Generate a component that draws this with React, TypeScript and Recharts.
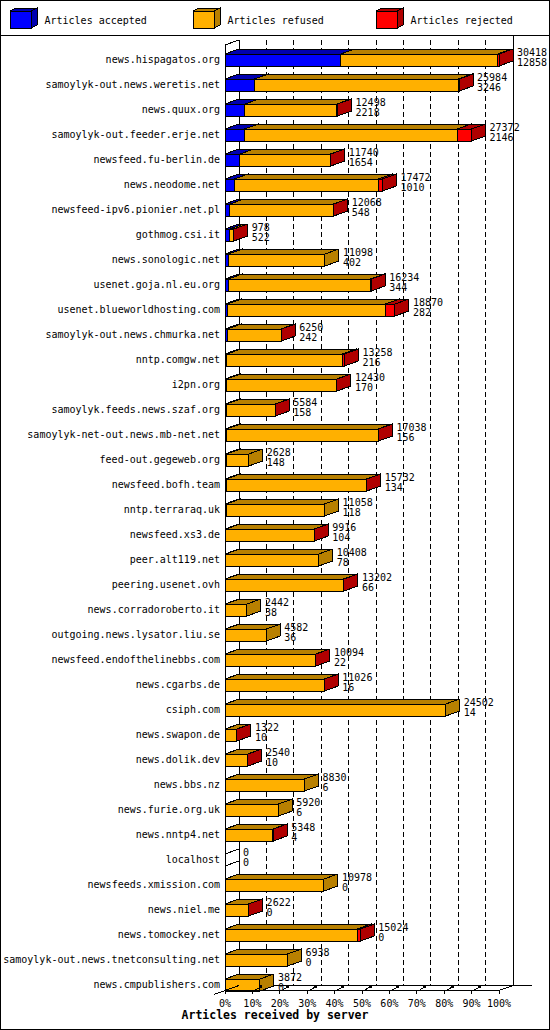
import React from 'react';
import { BarChart, Bar, XAxis, YAxis, CartesianGrid, LabelList } from 'recharts';

// Servers, top to bottom
const servers = [
  'news.hispagatos.org',
  'samoylyk-out.news.weretis.net',
  'news.quux.org',
  'samoylyk-out.feeder.erje.net',
  'newsfeed.fu-berlin.de',
  'news.neodome.net',
  'newsfeed-ipv6.pionier.net.pl',
  'gothmog.csi.it',
  'news.sonologic.net',
  'usenet.goja.nl.eu.org',
  'usenet.blueworldhosting.com',
  'samoylyk-out.news.chmurka.net',
  'nntp.comgw.net',
  'i2pn.org',
  'samoylyk.feeds.news.szaf.org',
  'samoylyk-net-out.news.mb-net.net',
  'feed-out.gegeweb.org',
  'newsfeed.bofh.team',
  'nntp.terraraq.uk',
  'newsfeed.xs3.de',
  'peer.alt119.net',
  'peering.usenet.ovh',
  'news.corradoroberto.it',
  'outgoing.news.lysator.liu.se',
  'newsfeed.endofthelinebbs.com',
  'news.cgarbs.de',
  'csiph.com',
  'news.swapon.de',
  'news.dolik.dev',
  'news.bbs.nz',
  'news.furie.org.uk',
  'news.nntp4.net',
  'localhost',
  'newsfeeds.xmission.com',
  'news.niel.me',
  'news.tomockey.net',
  'samoylyk-out.news.tnetconsulting.net',
  'news.cmpublishers.com',
];

// Articles offered (first number next to each bar)
const offered = [
  30418, 25984, 12498, 27372, 11740, 17472, 12068, 978, 11098, 16234,
  18870, 6250, 13258, 12430, 5584, 17038, 2628, 15732, 11058, 9916,
  10408, 13202, 2442, 4582, 10094, 11026, 24502, 1322, 2540, 8830,
  5920, 5348, 0, 10978, 2622, 15024, 6938, 3872,
];

// Articles accepted (second number)
const accepted = [
  12858, 3246, 2218, 2146, 1654, 1010, 548, 522, 402, 344,
  282, 242, 216, 170, 158, 156, 148, 134, 118, 104,
  78, 66, 38, 36, 22, 16, 14, 10, 10, 6,
  6, 4, 0, 0, 0, 0, 0, 0,
];

// Articles rejected (estimated from the red segments)
const rejected = [
  150, 100, 80, 1600, 40, 450, 40, 20, 0, 100,
  1050, 30, 250, 30, 20, 50, 0, 50, 0, 30,
  0, 40, 0, 0, 30, 30, 0, 10, 10, 0,
  0, 20, 0, 0, 10, 350, 0, 0,
];

const tickPercents = [0, 10, 20, 30, 40, 50, 60, 70, 80, 90, 100];

const legendItems = [
  { label: 'Articles accepted', front: '#0000ff', dark: '#0000b0' },
  { label: 'Articles refused', front: '#ffb000', dark: '#b88000' },
  { label: 'Articles rejected', front: '#ff0000', dark: '#b00000' },
];

const data = servers.map((name, i) => ({
  name,
  total: offered[i],
  accepted: accepted[i],
  refused: offered[i] - accepted[i] - rejected[i],
  rejected: rejected[i],
}));

const MAX = Math.max(...offered);
const FONT = "'DejaVu Sans Mono', monospace";

// 3d depth
const DX = 14;
const DY = 5;
const PLOT_LEFT = 225;
const PLOT_RIGHT = 499;
const FLOOR_Y = 990.5;
const BACK_FLOOR_Y = 985.5;

const box3d = (front: string, dark: string) => (props: any) => {
  const { x, y, width, height } = props;
  if (!(width > 0)) return <g />;
  const r = x + width;
  return (
    <g stroke="#000" strokeWidth={1}>
      <rect x={x} y={y} width={width} height={height} fill={front} />
      <polygon points={`${x},${y} ${r},${y} ${r + DX},${y - DY} ${x + DX},${y - DY}`} fill={dark} />
      <polygon
        points={`${r},${y} ${r + DX},${y - DY} ${r + DX},${y + height - DY} ${r},${y + height}`}
        fill={dark}
      />
    </g>
  );
};

const renderValueLabel = (props: any) => {
  const vb = props.viewBox || props;
  const x = vb.x ?? props.x;
  const y = vb.y ?? props.y;
  const width = vb.width ?? props.width ?? 0;
  const height = vb.height ?? props.height ?? 12;
  const i = props.index;
  const end = x + width;
  return (
    <g>
      {offered[i] === 0 && (
        <g stroke="#000">
          <line x1={end} y1={y} x2={end + DX} y2={y - DY} />
          <line x1={end} y1={y + height} x2={end + DX} y2={y + height - DY} />
        </g>
      )}
      <text x={end + 18} y={y + 2} fontFamily={FONT} fontSize={10} fill="#000">
        {offered[i]}
      </text>
      <text x={end + 18} y={y + 12} fontFamily={FONT} fontSize={10} fill="#000">
        {accepted[i]}
      </text>
    </g>
  );
};

const renderServerTick = (props: any) => {
  const { y, payload } = props;
  return (
    <text x={220} y={y + 3} textAnchor="end" fontFamily={FONT} fontSize={10} fill="#000">
      {payload.value}
    </text>
  );
};

const renderPercentTick = (props: any) => {
  const { x, payload } = props;
  const pct = Math.round((payload.value / MAX) * 100);
  return (
    <g>
      {pct === 0 && (
        <g stroke="#000" fill="none">
          <line x1={PLOT_LEFT} y1={45} x2={PLOT_LEFT} y2={FLOOR_Y} />
          <line x1={PLOT_LEFT} y1={45} x2={PLOT_LEFT + DX} y2={40} />
          <line x1={PLOT_LEFT} y1={FLOOR_Y} x2={PLOT_RIGHT} y2={FLOOR_Y} />
          <line x1={PLOT_RIGHT} y1={FLOOR_Y} x2={PLOT_RIGHT + DX} y2={BACK_FLOOR_Y} />
          <line x1={214} y1={994.5} x2={PLOT_LEFT + DX} y2={BACK_FLOOR_Y} />
        </g>
      )}
      <line x1={x} y1={FLOOR_Y} x2={x} y2={994} stroke="#000" />
      {pct > 0 && pct < 100 && (
        <g stroke="#000">
          <line x1={x + 2} y1={FLOOR_Y} x2={x + 8} y2={987} />
          <rect x={x + 7} y={985} width={2} height={2} fill="#000" />
        </g>
      )}
      <text x={x} y={1006.5} textAnchor="middle" fontFamily={FONT} fontSize={10} fill="#000">
        {pct}%
      </text>
    </g>
  );
};

const renderGridLine = (props: any) => {
  const { x1, index } = props;
  const bx = x1 + DX;
  if (Math.abs(x1 - PLOT_LEFT) < 0.5) {
    return <line key={`g-${index}`} x1={bx} y1={40} x2={bx} y2={BACK_FLOOR_Y} stroke="#000" />;
  }
  if (Math.abs(x1 - PLOT_RIGHT) < 0.5) {
    return (
      <g key={`g-${index}`} stroke="#000">
        <line x1={bx} y1={35} x2={bx} y2={BACK_FLOOR_Y} />
        <line x1={PLOT_LEFT + DX} y1={BACK_FLOOR_Y} x2={532} y2={BACK_FLOOR_Y} />
      </g>
    );
  }
  return (
    <line
      key={`g-${index}`}
      x1={bx}
      y1={40}
      x2={bx}
      y2={BACK_FLOOR_Y}
      stroke="#000"
      strokeDasharray="5 3"
    />
  );
};

function LegendBar() {
  return (
    <svg width={550} height={36} style={{ position: 'absolute', left: 0, top: 0 }}>
      {legendItems.map((item, i) => {
        const x0 = 10 + i * 183;
        return (
          <g key={item.label}>
            <g stroke="#000">
              <rect x={x0} y={11} width={21} height={17} fill={item.front} />
              <polygon
                points={`${x0},11 ${x0 + 21},11 ${x0 + 27},8 ${x0 + 6},8`}
                fill={item.dark}
              />
              <polygon
                points={`${x0 + 21},11 ${x0 + 27},8 ${x0 + 27},25 ${x0 + 21},28`}
                fill={item.dark}
              />
            </g>
            <text x={x0 + 34.5} y={24} fontFamily={FONT} fontSize={10} fill="#000">
              {item.label}
            </text>
          </g>
        );
      })}
      <line x1={0} y1={35.5} x2={550} y2={35.5} stroke="#000" />
    </svg>
  );
}

export default function App() {
  return (
    <div
      style={{
        position: 'absolute',
        left: 0,
        top: 0,
        width: 550,
        height: 1030,
        background: '#fff',
        shapeRendering: 'crispEdges',
      }}
    >
      <BarChart
        width={550}
        height={1030}
        data={data}
        layout="vertical"
        margin={{ top: 47, right: 51, bottom: 0, left: 0 }}
        barSize={12}
      >
        <CartesianGrid horizontal={false} vertical={renderGridLine} />
        <XAxis
          type="number"
          domain={[0, MAX]}
          ticks={tickPercents.map(p => (MAX * p) / 100)}
          interval={0}
          axisLine={false}
          tickLine={false}
          height={33}
          tick={renderPercentTick}
        />
        <YAxis
          type="category"
          dataKey="name"
          width={225}
          interval={0}
          axisLine={false}
          tickLine={false}
          tick={renderServerTick}
        />
        <Bar dataKey="accepted" stackId="a" isAnimationActive={false} shape={box3d('#0000ff', '#0000b0')} />
        <Bar dataKey="refused" stackId="a" isAnimationActive={false} shape={box3d('#ffb000', '#b88000')} />
        <Bar dataKey="rejected" stackId="a" isAnimationActive={false} shape={box3d('#ff0000', '#b00000')}>
          <LabelList dataKey="total" content={renderValueLabel} />
        </Bar>
      </BarChart>
      <LegendBar />
      <div
        style={{
          position: 'absolute',
          left: 0,
          top: 1008,
          width: 550,
          textAlign: 'center',
          fontFamily: FONT,
          fontWeight: 'bold',
          fontSize: 11.5,
          lineHeight: '14px',
        }}
      >
        Articles received by server
      </div>
      <div
        style={{
          position: 'absolute',
          left: 0,
          top: 0,
          width: 550,
          height: 1030,
          boxSizing: 'border-box',
          border: '1px solid #000',
          pointerEvents: 'none',
        }}
      />
    </div>
  );
}
